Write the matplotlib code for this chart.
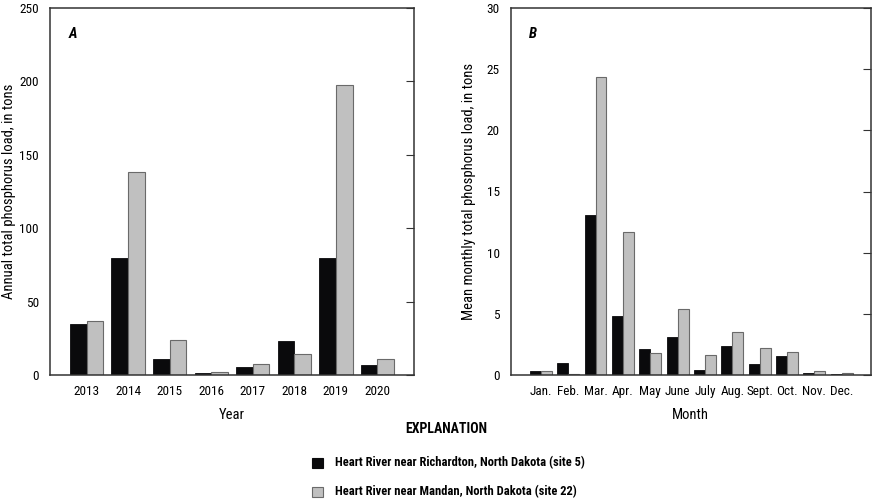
import matplotlib
matplotlib.use("Agg")
import matplotlib.pyplot as plt
import numpy as np
from matplotlib.patches import Rectangle
from matplotlib import font_manager

_names = {f.name for f in font_manager.fontManager.ttflist}
_pref = ['Roboto Condensed', 'Archivo Narrow', 'Barlow Semi Condensed', 'Asap Condensed',
         'Liberation Sans Narrow', 'Liberation Sans']
FONT = next(n for n in _pref + ['DejaVu Sans'] if n in _names or n == 'DejaVu Sans')
plt.rcParams['font.family'] = [FONT, 'DejaVu Sans']

years = ['2013', '2014', '2015', '2016', '2017', '2018', '2019', '2020']
annual_richardton = [34.8, 79.8, 11.1, 1.4, 5.5, 23.0, 79.8, 6.8]
annual_mandan = [37.0, 138.6, 23.6, 1.8, 7.3, 14.5, 197.5, 10.9]

months = ['Jan.', 'Feb.', 'Mar.', 'Apr.', 'May', 'June', 'July', 'Aug.', 'Sept.', 'Oct.', 'Nov.', 'Dec.']
monthly_richardton = [0.33, 0.95, 13.1, 4.8, 2.15, 3.08, 0.41, 2.4, 0.93, 1.55, 0.16, 0.08]
monthly_mandan = [0.33, 0.05, 24.35, 11.67, 1.77, 5.37, 1.64, 3.49, 2.18, 1.91, 0.30, 0.14]

legend_labels = ['Heart River near Richardton, North Dakota (site 5)',
                 'Heart River near Mandan, North Dakota (site 22)']

BLACK = '#0a0a0c'
GRAY = '#c0c0c0'
GRAY_EDGE = '#6a6a6a'

W, H = 875, 499
fig = plt.figure(figsize=(W / 100, H / 100), dpi=100)

def px_axes(l, t, r, b):
    return fig.add_axes([l / W, 1 - b / H, (r - l) / W, (b - t) / H])

def style(ax, ymax, step, xlim, cats, xlabel, ylabel, letter, ylab_x):
    ax.set_ylim(0, ymax)
    ax.set_xlim(*xlim)
    ax.set_yticks(np.arange(0, ymax + 0.01, step))
    ax.yaxis.set_ticks_position('right')
    ax.tick_params(axis='y', direction='in', length=6, width=0.8, labelright=False, labelleft=True,
                   labelsize=9.5, pad=8, color='#333333')
    ax.set_xticks(np.arange(len(cats)))
    ax.set_xticklabels(cats)
    ax.tick_params(axis='x', length=0, labelsize=9.5, pad=7)
    ax.set_xlabel(xlabel, fontsize=10.5)
    ax.xaxis.set_label_coords(0.5, -0.09)
    ax.set_ylabel(ylabel, fontsize=10.5)
    ax.yaxis.set_label_position('left')
    ax.yaxis.set_label_coords(ylab_x, 0.5)
    ax.yaxis.label.set_va('center')
    for s in ax.spines.values():
        s.set_linewidth(1.1)
        s.set_color('#333333')
    ax.text(0.05, 0.93, letter, transform=ax.transAxes, fontsize=10.5, fontweight='bold',
            fontstyle='italic', va='center', ha='left')

def bars(ax, a, b, w=0.4):
    x = np.arange(len(a))
    ax.bar(x - w / 2, a, w, color=BLACK, edgecolor=BLACK, linewidth=0.6)
    ax.bar(x + w / 2, b, w, color=GRAY, edgecolor=GRAY_EDGE, linewidth=0.8)

axA = px_axes(50, 8, 414, 375)
bars(axA, annual_richardton, annual_mandan)
style(axA, 250, 50, (-0.88, 7.88), years, 'Year', 'Annual total phosphorus load, in tons', 'A',
      (9 - 50) / 364)

axB = px_axes(511, 8, 870.5, 375)
bars(axB, monthly_richardton, monthly_mandan)
style(axB, 30, 5, (-1.09, 12.05), months, 'Month', 'Mean monthly total phosphorus load, in tons', 'B',
      (469 - 511) / 359.5)

# Explanation
fig.text(446 / W, 1 - 429 / H, 'EXPLANATION', ha='center', va='center', fontsize=10, fontweight='bold')
for i, (lab, fc, ec) in enumerate(zip(legend_labels, [BLACK, GRAY], [BLACK, GRAY_EDGE])):
    yc = [463, 492][i]
    fig.patches.append(Rectangle((312 / W, 1 - (yc + 5) / H), 11 / W, 10 / H, transform=fig.transFigure,
                                 facecolor=fc, edgecolor=ec, linewidth=0.8))
    fig.text(335 / W, 1 - yc / H, lab, ha='left', va='center', fontsize=9, fontweight='bold')

fig.savefig('out.png', dpi=100)
